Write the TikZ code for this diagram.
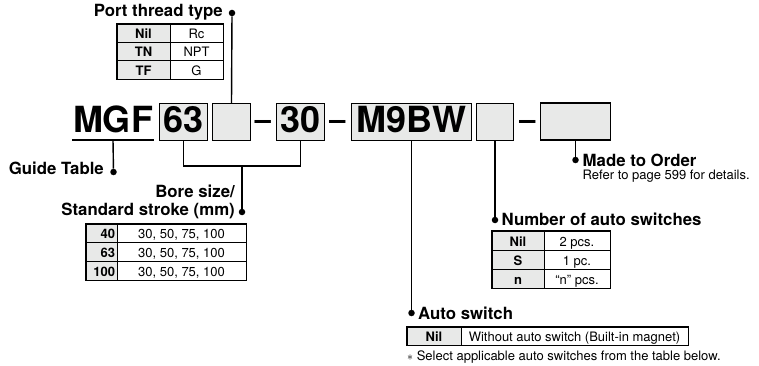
\documentclass[tikz,border=0pt]{standalone}
\usepackage{fontspec}
\setmainfont{TeX Gyre Heros}
\usetikzlibrary{calc}
\definecolor{boxgray}{HTML}{E8E9E8}
\begin{document}
\begin{tikzpicture}[x=1pt,y=-1pt,
  bigbox/.style={draw, line width=1.4pt, fill=boxgray, inner sep=0pt, minimum height=37pt,
     font=\fontsize{36}{36}\selectfont\bfseries, text depth=5pt},
  bigtext/.style={inner sep=0pt, font=\fontsize{36}{36}\selectfont\bfseries},
  dashtext/.style={inner sep=0pt, font=\fontsize{29}{29}\selectfont\bfseries},
  lbl/.style={inner sep=0pt, font=\fontsize{16.8}{18}\selectfont\bfseries},
  note/.style={inner sep=0pt, font=\fontsize{13}{15}\selectfont},
  conn/.style={line width=1.4pt},
  dotn/.style={circle, fill=black, inner sep=0pt, minimum size=6.5pt},
  cell/.style={draw, line width=0.8pt, inner sep=0pt, text height=11pt, text depth=0pt,
     font=\fontsize{13}{15}\selectfont},
  kcell/.style={cell, fill=boxgray, font=\fontsize{13}{15}\selectfont\bfseries},
  kcellr/.style={kcell, text width=27pt, align=right, inner xsep=2pt},
  frame/.style={draw, line width=1.2pt}
]
\useasboundingbox (0,0) rectangle (759,366);

% ---- model code ----
\node[bigtext, anchor=base] (mgf) at (113,133) {MGF};
\coordinate (mgfu) at (113,140);
\draw[line width=1.2pt] (72,140) -- (154,140);
\node[bigbox, minimum width=48pt] (b63) at (183.5,122) {63};
\node[bigbox, minimum width=38pt] (bE1) at (231.5,122) {};
\node[dashtext, anchor=base] (h1) at (263,130) {–};
\node[bigbox, minimum width=48pt] (b30) at (300.5,122) {30};
\node[dashtext, anchor=base] (h2) at (337.5,130) {–};
\node[bigbox, minimum width=120pt] (bM) at (411.5,122) {M9BW};
\node[bigbox, minimum width=37pt] (bE2) at (495,122) {};
\node[dashtext, anchor=base] (h3) at (527.5,130) {–};
\node[bigbox, minimum width=70pt] (bE3) at (575.5,121.5) {};

% ---- port thread type ----
\node[dotn] (dpt) at (232,13) {};
\draw[conn] (bE1.north) -- (dpt);
\node[lbl, anchor=base east] (lpt) at (223,17) {Port thread type};
\node[kcell, minimum width=53pt, minimum height=18.33pt] (p1k) at (143.5,33.17) {Nil};
\node[cell,  minimum width=53pt, minimum height=18.33pt] (p1v) at (196.5,33.17) {Rc};
\node[kcell, minimum width=53pt, minimum height=18.33pt] (p2k) at (143.5,51.5) {TN};
\node[cell,  minimum width=53pt, minimum height=18.33pt] (p2v) at (196.5,51.5) {NPT};
\node[kcell, minimum width=53pt, minimum height=18.33pt] (p3k) at (143.5,69.83) {TF};
\node[cell,  minimum width=53pt, minimum height=18.33pt] (p3v) at (196.5,69.83) {G};
\draw[frame] (p1k.north west) rectangle (p3v.south east);

% ---- guide table ----
\node[dotn] (dg) at (113.5,172) {};
\draw[conn] (mgfu) -- (dg);
\node[lbl, anchor=base east] (lg) at (104,175) {Guide Table};

% ---- bore size ----
\coordinate (bj) at (242,166);
\node[dotn] (db) at (242,212) {};
\draw[conn] (b63.south) |- (bj) -| (b30.south);
\draw[conn] (bj) -- (db);
\node[lbl, anchor=base east] (lb1) at (235,197) {Bore size/};
\node[lbl, anchor=base east] (lb2) at (235,215.5) {Standard stroke (mm)};
\node[kcellr, minimum height=18.67pt] (s1k) at (101.5,233.33) {40};
\node[cell, minimum width=129pt, minimum height=18.67pt] (s1v) at (181.5,233.33) {30, 50, 75, 100};
\node[kcellr, minimum height=18.67pt] (s2k) at (101.5,252) {63};
\node[cell, minimum width=129pt, minimum height=18.67pt] (s2v) at (181.5,252) {30, 50, 75, 100};
\node[kcellr, minimum height=18.67pt] (s3k) at (101.5,270.67) {100};
\node[cell, minimum width=129pt, minimum height=18.67pt] (s3v) at (181.5,270.67) {30, 50, 75, 100};
\draw[frame] (s1k.north west) rectangle (s3v.south east);

% ---- auto switch ----
\node[dotn] (da) at (411.5,313) {};
\draw[conn] (bM.south) -- (da);
\node[lbl, anchor=base west] (la) at (418,319) {Auto switch};
\node[kcell, minimum width=54pt, minimum height=18pt] (a1k) at (434,336) {Nil};
\node[cell, minimum width=227pt, minimum height=18pt] (a1v) at (574.5,336) {Without auto switch (Built-in magnet)};
\draw[frame] (a1k.north west) rectangle (a1v.south east);
\node[note, anchor=base west] (fn) at (407,360) {{\fontsize{12}{12}\selectfont$\ast$} Select applicable auto switches from the table below.};

% ---- number of auto switches ----
\node[dotn] (dn) at (495,220) {};
\draw[conn] (bE2.south) -- (dn);
\node[lbl, anchor=base west] (ln) at (501.5,225) {Number of auto switches};
\node[kcell, minimum width=52pt, minimum height=19pt] (n1k) at (518,240.5) {Nil};
\node[cell, minimum width=66pt, minimum height=19pt] (n1v) at (577,240.5) {2 pcs.};
\node[kcell, minimum width=52pt, minimum height=19pt] (n2k) at (518,259.5) {S};
\node[cell, minimum width=66pt, minimum height=19pt] (n2v) at (577,259.5) {1 pc.};
\node[kcell, minimum width=52pt, minimum height=19pt] (n3k) at (518,278.5) {n};
\node[cell, minimum width=66pt, minimum height=19pt] (n3v) at (577,278.5) {“n” pcs.};
\draw[frame] (n1k.north west) rectangle (n3v.south east);

% ---- made to order ----
\node[dotn] (dm) at (575.5,160) {};
\draw[conn] (bE3.south) -- (dm);
\node[lbl, anchor=base west] (lm) at (582.5,166) {Made to Order};
\node[note, anchor=base west] (lr) at (582.5,179) {Refer to page 599 for details.};
\end{tikzpicture}
\end{document}
